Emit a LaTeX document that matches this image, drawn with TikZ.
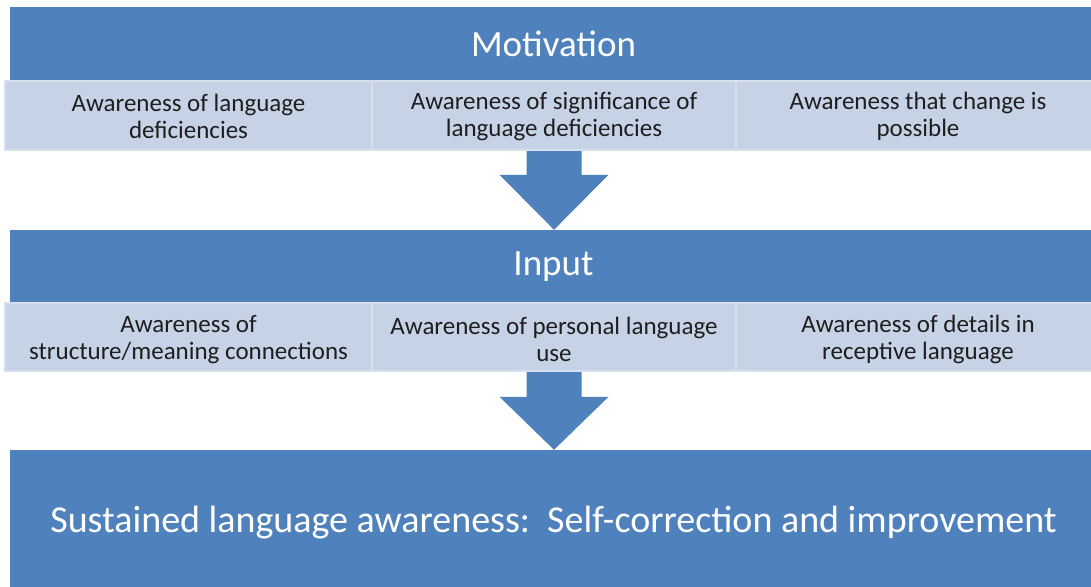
\documentclass[tikz,border=0pt]{standalone}
\usepackage{fontspec}
\setmainfont{Carlito}
\usetikzlibrary{calc}
\definecolor{hdr}{HTML}{4F81BD}
\definecolor{subfill}{HTML}{C6D3E6}
\definecolor{subedge}{HTML}{D6DFEE}
\definecolor{subtext}{HTML}{1E1E1E}
\begin{document}
\begin{tikzpicture}[x=1pt,y=-1pt,
  header/.style={rectangle, fill=hdr, draw=none, inner sep=0pt, text=white,
    font=\fontsize{37}{44}\selectfont},
  subbox/.style={rectangle, fill=subfill, draw=subedge, line width=2pt, inner sep=0pt,
    minimum width=364pt, minimum height=69pt},
  subtxt/.style={inner sep=0pt, text=subtext, align=center,
    font=\fontsize{25}{26.5}\selectfont},
  blockarrow/.style={fill=hdr, draw=none}]
\useasboundingbox (0,0) rectangle (1091,586);
\clip (0,0) rectangle (1091,586);
\fill[white] (0,0) rectangle (1091,586);

% Motivation stage
\node[header, minimum width=1087pt, minimum height=74pt] (mot) at (553.5,44) {Motivation};
\node[subbox, minimum width=367pt] (m1) at (188.5,115.5) {};
\node[subbox] (m2) at (554,115.5) {};
\node[subbox] (m3) at (918,115.5) {};
\node[subtxt] (m1t) at ($(m1.center)+(0,1)$) {Awareness of language\\deficiencies};
\node[subtxt] (m2t) at ($(m2.center)+(0,1)$) {Awareness of significance of\\language deficiencies};
\node[subtxt] (m3t) at ($(m3.center)+(0,1)$) {Awareness that change is\\possible};

% Input stage
\node[header, minimum width=1087pt, minimum height=73pt] (inp) at (553.5,266.5) {Input};
\node[subbox, minimum width=367pt, minimum height=68pt] (i1) at (188.5,337) {};
\node[subbox, minimum height=68pt] (i2) at (554,337) {};
\node[subbox, minimum height=68pt] (i3) at (918,337) {};
\node[subtxt] (i1t) at ($(i1.center)+(0,2.5)$) {Awareness of\\structure/meaning connections};
\node[subtxt] (i2t) at ($(i2.center)+(0,2.5)$) {Awareness of personal language\\use};
\node[subtxt] (i3t) at ($(i3.center)+(0,2.5)$) {Awareness of details in\\receptive language};

% Outcome
\node[header, minimum width=1087pt, minimum height=140pt] (out) at (553.5,520) {};
\node[inner sep=0pt, text=white, font=\fontsize{38}{44}\selectfont] (outt) at ($(out.center)+(0,3)$)
  {Sustained language awareness:\ \ Self-correction and improvement};

% Block arrows between stages
\fill[blockarrow] ($(m2.south)+(-27.5,0)$) -- ++(55,0)
  -- ($(m2.south |- inp.north)+(27.5,-55)$) -- ++(27,0)
  -- (m2.south |- inp.north)
  -- ($(m2.south |- inp.north)+(-54.5,-55)$) -- ++(27,0) -- cycle;
\fill[blockarrow] ($(i2.south)+(-27.5,0)$) -- ++(55,0)
  -- ($(i2.south |- out.north)+(27.5,-53)$) -- ++(27,0)
  -- (i2.south |- out.north)
  -- ($(i2.south |- out.north)+(-54.5,-53)$) -- ++(27,0) -- cycle;
\end{tikzpicture}
\end{document}
